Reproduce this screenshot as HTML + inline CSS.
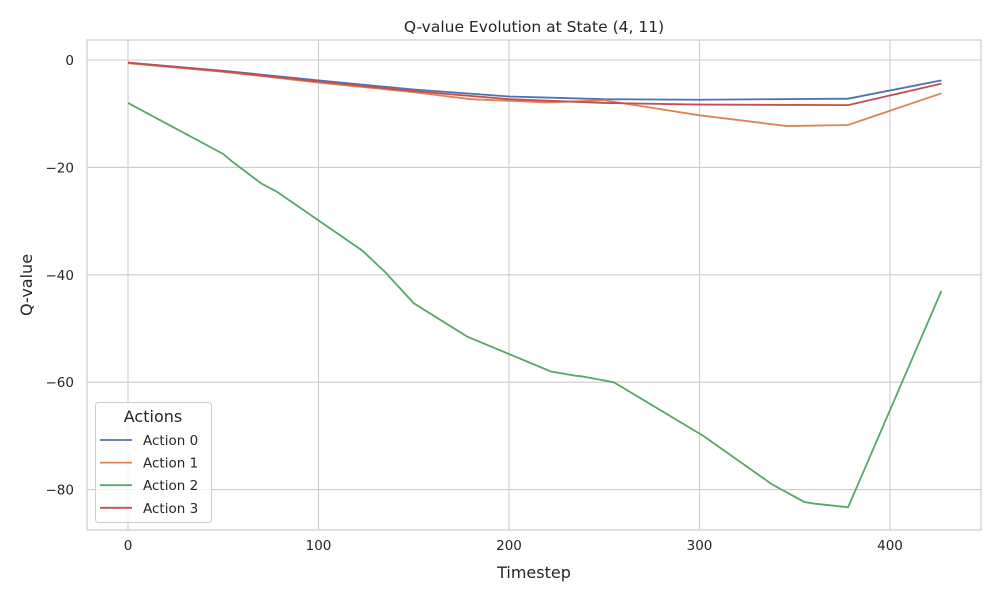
<!DOCTYPE html>
<html><head><meta charset="utf-8"><style>
body{margin:0;background:#fff;font-family:"DejaVu Sans","Liberation Sans",sans-serif}
svg text{font-family:"DejaVu Sans","Liberation Sans",sans-serif}
</style></head><body>
<svg id="c" width="1000" height="600" xmlns="http://www.w3.org/2000/svg"></svg>
<script>
const t0=[0,50,100,150,200,250,300,378,427];
const v0=[-0.5,-2,-3.8,-5.5,-6.8,-7.3,-7.4,-7.2,-3.8];
const t1=[0,50,100,150,180,220,250,300,346,378,427];
const v1=[-0.6,-2.2,-4.2,-6,-7.3,-7.9,-7.5,-10.3,-12.3,-12.1,-6.2];
const t2=[0,50,55,70,78,123,135,150,178,222,235,238,255,302,338,355,360,378,427];
const v2=[-8,-17.5,-19,-23,-24.5,-35.5,-39.5,-45.3,-51.5,-58,-58.8,-58.9,-60,-70,-79,-82.3,-82.6,-83.3,-43];
const t3=[0,50,100,150,200,250,300,378,427];
const v3=[-0.5,-2.1,-4,-5.8,-7.3,-8,-8.3,-8.4,-4.4];
const xTicks=[0,100,200,300,400];
const yTicks=[0,-20,-40,-60,-80];
const seriesNames=["Action 0","Action 1","Action 2","Action 3"];
const colors=["#4c72b0","#dd8452","#55a868","#c44e52"];
const X=t=>128+t*1.905, Y=v=>60-v*5.37;
const ns="http://www.w3.org/2000/svg", svg=document.getElementById('c');
function mk(tag,a,txt){const e=document.createElementNS(ns,tag);for(const k in a)e.setAttribute(k,a[k]);if(txt!==undefined)e.textContent=txt;svg.appendChild(e);return e;}
xTicks.forEach(t=>{const l=mk('line',{x1:X(t),x2:X(t),y1:40,y2:530,stroke:'#cccccc','stroke-width':1.1});


const tx=mk('text',{x:X(t),y:550,'text-anchor':'middle','font-size':13.5,fill:'#262626'},String(t));

});
yTicks.forEach(v=>{const l=mk('line',{x1:87,x2:981,y1:Y(v),y2:Y(v),stroke:'#cccccc','stroke-width':1.1});


const tx=mk('text',{x:74,y:Y(v)+5,'text-anchor':'end','font-size':13.5,fill:'#262626'},(v<0?'\u2212'+(-v):String(v)));

});
const fr=mk('rect',{x:87,y:40,width:894,height:490,fill:'none',stroke:'#cccccc','stroke-width':1.2});


[[t0,v0],[t1,v1],[t2,v2],[t3,v3]].forEach((s,i)=>{const p=mk('polyline',{points:s[0].map((t,j)=>X(t)+','+Y(s[1][j])).join(' '),fill:'none',stroke:colors[i],'stroke-width':1.8});

});
let e=mk('text',{x:534,y:32,'text-anchor':'middle','font-size':15.5,fill:'#262626'},'Q-value Evolution at State (4, 11)');


e=mk('text',{x:534,y:578,'text-anchor':'middle','font-size':16,fill:'#262626'},'Timestep');


e=mk('text',{x:32,y:285,'text-anchor':'middle','font-size':16,fill:'#262626',transform:'rotate(-90 32 285)'},'Q-value');


e=mk('rect',{x:95.5,y:402.5,width:116,height:120,rx:3,fill:'#fff','fill-opacity':0.8,stroke:'#cccccc'});


e=mk('text',{x:153,y:422,'text-anchor':'middle','font-size':16,fill:'#262626'},'Actions');


seriesNames.forEach((n,i)=>{const y=440+i*22.6;
const l=mk('line',{x1:100,x2:132,y1:y,y2:y,stroke:colors[i],'stroke-width':1.8});


const t=mk('text',{x:143,y:y+5,'font-size':13.5,fill:'#262626'},n);

});
</script>
</body></html>
